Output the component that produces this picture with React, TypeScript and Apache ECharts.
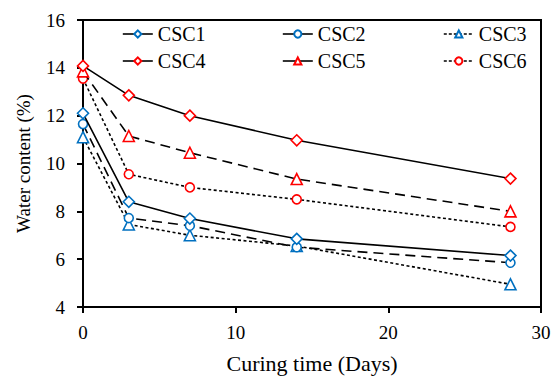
import React, { useEffect, useRef } from "react";
import * as echarts from "echarts";

// Curing time (days)
const days = [0, 3, 7, 14, 28];

// Water content (%) for each mix
const csc1 = [12.1, 8.4, 7.7, 6.85, 6.15];
const csc2 = [11.65, 7.72, 7.4, 6.5, 5.85];
const csc3 = [11.1, 7.45, 7.0, 6.55, 4.95];
const csc4 = [14.08, 12.85, 12.0, 10.97, 9.37];
const csc5 = [13.85, 11.15, 10.45, 9.35, 8.0];
const csc6 = [13.55, 9.55, 9.0, 8.5, 7.35];

const seriesNames = ["CSC1", "CSC2", "CSC3", "CSC4", "CSC5", "CSC6"];
const seriesValues = [csc1, csc2, csc3, csc4, csc5, csc6];

const BLUE = "#0070C0";
const RED = "#FF0000";
const FONT = "Liberation Serif";

const markerColors = [BLUE, BLUE, BLUE, RED, RED, RED];
const markerShapes = ["diamond", "circle", "triangle", "diamond", "triangle", "circle"];
const dashes: any[] = ["solid", [10, 6], [3, 2.5], "solid", [10, 6], [3, 2.5]];
const legendDashes: any[] = ["solid", "solid", [3, 2], "solid", "solid", [3, 2]];

// legend layout: two rows of three
const legendLeft = [122, 282, 443, 122, 282, 443];
const legendTop = [24, 24, 24, 51, 51, 51];

const text = (size: number) => ({
  fontFamily: FONT,
  fontSize: size,
  fontWeight: "normal",
  color: "#000",
});

export default function App() {
  const ref = useRef<HTMLDivElement>(null);

  useEffect(() => {
    if (!ref.current) return;
    const chart = echarts.init(ref.current, undefined, { renderer: "svg" });

    const series = seriesNames.map((name, i) => ({
      name,
      type: "line",
      data: days.map((d, j) => [d, seriesValues[i][j]]),
      symbol: markerShapes[i],
      symbolSize: markerShapes[i] === "circle" ? 9 : 11,
      showAllSymbol: true,
      itemStyle: { color: "#ffffff", borderColor: markerColors[i], borderWidth: 1.6 },
      lineStyle: { color: "#000000", width: 1.6, type: dashes[i] },
      emphasis: { disabled: true },
      z: 2 + (5 - i),
    }));

    const legends = seriesNames.map((name, i) => ({
      data: [name],
      left: legendLeft[i],
      top: legendTop[i],
      itemWidth: 30,
      itemHeight: 9,
      itemGap: 0,
      padding: 0,
      lineStyle: { type: legendDashes[i], width: 1.6, color: "#000" },
      textStyle: text(20),
      selectedMode: false,
    }));

    chart.setOption({
      animation: false,
      backgroundColor: "#ffffff",
      textStyle: { fontFamily: FONT },
      legend: legends,
      grid: {
        left: 83,
        right: 16,
        top: 20,
        bottom: 69,
        containLabel: false,
        outerBoundsMode: "none",
        show: true,
        borderColor: "#000",
        borderWidth: 2,
      },
      xAxis: {
        type: "value",
        min: 0,
        max: 30,
        interval: 10,
        name: "Curing time (Days)",
        nameLocation: "middle",
        nameGap: 45,
        nameTextStyle: text(22),
        axisLine: { show: true, lineStyle: { color: "#000", width: 2 } },
        axisTick: { show: true, inside: false, length: 6, lineStyle: { color: "#000", width: 2 } },
        axisLabel: { ...text(19), margin: 16 },
        splitLine: { show: false },
      },
      yAxis: {
        type: "value",
        min: 4,
        max: 16,
        interval: 2,
        name: "Water content (%)",
        nameLocation: "middle",
        nameGap: 50,
        nameTextStyle: text(19),
        axisLine: { show: true, lineStyle: { color: "#000", width: 2 } },
        axisTick: { show: true, inside: false, length: 6, lineStyle: { color: "#000", width: 2 } },
        axisLabel: { ...text(19), margin: 18 },
        splitLine: { show: false },
      },
      series,
    });

    return () => chart.dispose();
  }, []);

  return (
    <div
      ref={ref}
      style={{ position: "fixed", left: 0, top: 0, width: 557, height: 376 }}
    />
  );
}
